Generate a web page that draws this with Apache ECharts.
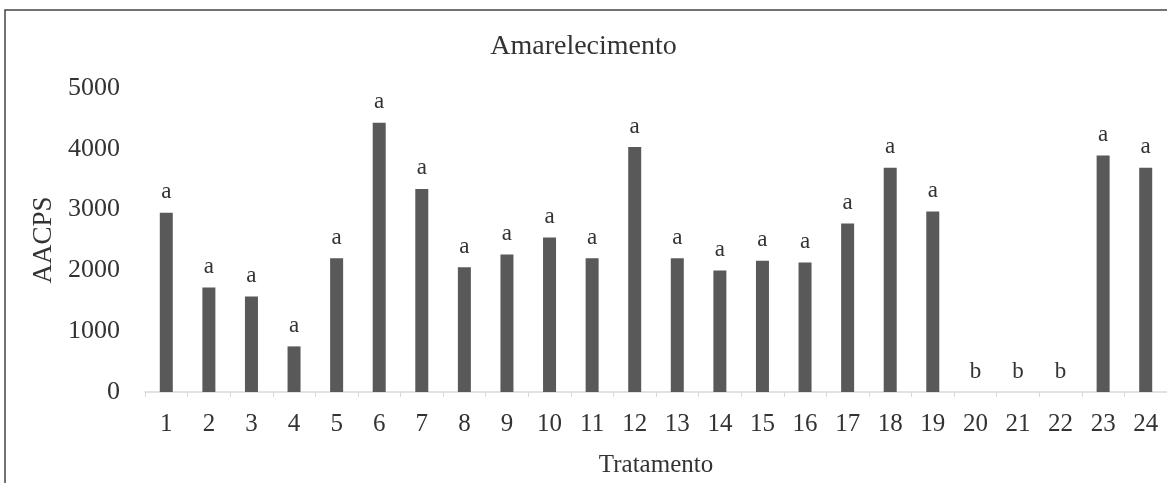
<!DOCTYPE html>
<html>
<head>
<meta charset="utf-8">
<script src="https://cdn.jsdelivr.net/npm/echarts@6/dist/echarts.min.js"></script>
<style>
  html, body { margin: 0; padding: 0; background: #ffffff; }
  #chart { width: 1167px; height: 483px; }
</style>
</head>
<body>
<div id="chart"></div>
<script>
// Treatments on the x axis
const tratamentos = ['1','2','3','4','5','6','7','8','9','10','11','12',
                     '13','14','15','16','17','18','19','20','21','22','23','24'];
// AACPS per treatment
const aacps = [2950, 1720, 1570, 750, 2200, 4430, 3340, 2050, 2260, 2540, 2200, 4030,
               2200, 2000, 2160, 2130, 2770, 3690, 2970, 0, 0, 0, 3890, 3690];
// Significance letters above each bar
const letras = ['a','a','a','a','a','a','a','a','a','a','a','a',
                'a','a','a','a','a','a','a','b','b','b','a','a'];
// Y axis ticks
const yMin = 0, yMax = 5000, yStep = 1000;

const FONT = '"Liberation Serif", "Times New Roman", serif';
const TEXT = '#333333';

const chart = echarts.init(document.getElementById('chart'), null, { renderer: 'canvas' });

chart.setOption({
  backgroundColor: '#ffffff',
  animation: false,
  title: {
    text: 'Amarelecimento',
    left: 'center',
    top: 28,
    textStyle: { fontFamily: FONT, fontSize: 28, fontWeight: 'normal', color: TEXT }
  },
  graphic: [{
    type: 'rect',
    shape: { x: 5, y: 10, width: 1200, height: 520 },
    style: { fill: 'none', stroke: '#444', lineWidth: 1.5 },
    silent: true
  }],
  grid: { left: 145, right: -10, top: 88, bottom: 90, containLabel: false },
  xAxis: {
    type: 'category',
    data: tratamentos,
    boundaryGap: true,
    name: 'Tratamento',
    nameLocation: 'middle',
    nameGap: 61,
    nameTextStyle: { fontFamily: FONT, fontSize: 25, color: TEXT },
    axisLine: { show: true, lineStyle: { color: '#d9d9d9', width: 1.5 } },
    axisTick: { show: true, alignWithLabel: false, length: 5, lineStyle: { color: '#d9d9d9' } },
    axisLabel: { fontFamily: FONT, fontSize: 25, color: TEXT, margin: 20, interval: 0 },
    splitLine: { show: false }
  },
  yAxis: {
    type: 'value',
    min: yMin,
    max: yMax,
    interval: yStep,
    name: 'AACPS',
    nameLocation: 'middle',
    nameGap: 81,
    nameRotate: 90,
    nameTextStyle: { fontFamily: FONT, fontSize: 27, color: TEXT },
    axisLine: { show: false },
    axisTick: { show: false },
    axisLabel: {
      fontFamily: FONT, fontSize: 26, color: TEXT, margin: 25,
      formatter: v => String(v)
    },
    splitLine: { show: false }
  },
  series: [{
    type: 'bar',
    data: aacps,
    barWidth: 13,
    itemStyle: { color: '#595959' },
    label: {
      show: true,
      position: 'top',
      distance: 9,
      fontFamily: FONT,
      fontSize: 23,
      color: TEXT,
      formatter: p => letras[p.dataIndex]
    }
  }]
});
</script>
</body>
</html>
